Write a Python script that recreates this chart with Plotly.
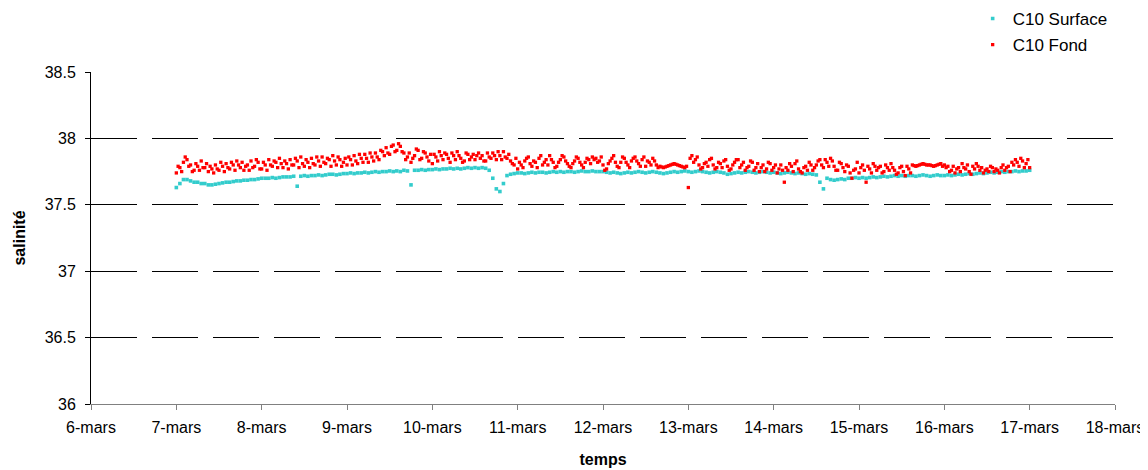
import pandas as pd
import plotly.graph_objects as go

# ---- data (readings from 7-mars 00h to 17-mars 00h) ----
start_time = "2007-03-07 00:00"      # hourly readings (HH:00)
start_time_half = "2007-03-07 00:30" # intermediate bottom readings (HH:30)

surface_values = [
    # 7-mars
    37.63, 37.66, 37.69, 37.69, 37.68, 37.67, 37.67, 37.66, 37.66, 37.65, 37.65, 37.655,
    37.66, 37.665, 37.67, 37.67, 37.675, 37.68, 37.68, 37.685, 37.685, 37.69, 37.69, 37.695,
    # 8-mars
    37.70, 37.70, 37.70, 37.705, 37.70, 37.705, 37.71, 37.71, 37.71, 37.715, 37.64, 37.715,
    37.72, 37.715, 37.72, 37.72, 37.725, 37.72, 37.725, 37.73, 37.73, 37.725, 37.73, 37.735,
    # 9-mars
    37.735, 37.74, 37.735, 37.74, 37.74, 37.745, 37.74, 37.745, 37.75, 37.745, 37.75, 37.75,
    37.755, 37.75, 37.755, 37.75, 37.76, 37.755, 37.65, 37.76, 37.76, 37.765, 37.76, 37.765,
    # 10-mars
    37.765, 37.77, 37.765, 37.77, 37.77, 37.775, 37.77, 37.775, 37.77, 37.775, 37.78, 37.775,
    37.78, 37.775, 37.78, 37.775, 37.76, 37.70, 37.62, 37.60, 37.66, 37.72, 37.73, 37.735,
    # 11-mars
    37.74, 37.74, 37.735, 37.74, 37.745, 37.74, 37.745, 37.745, 37.74, 37.745, 37.75, 37.745,
    37.75, 37.745, 37.75, 37.75, 37.745, 37.75, 37.755, 37.75, 37.75, 37.755, 37.75, 37.75,
    # 12-mars
    37.75, 37.745, 37.74, 37.745, 37.74, 37.735, 37.74, 37.745, 37.74, 37.745, 37.75, 37.745,
    37.74, 37.745, 37.75, 37.745, 37.74, 37.735, 37.74, 37.745, 37.75, 37.745, 37.75, 37.755,
    # 13-mars
    37.75, 37.745, 37.75, 37.755, 37.75, 37.745, 37.74, 37.745, 37.75, 37.745, 37.74, 37.73,
    37.735, 37.74, 37.745, 37.74, 37.745, 37.75, 37.745, 37.74, 37.745, 37.75, 37.745, 37.74,
    # 14-mars
    37.745, 37.74, 37.735, 37.74, 37.745, 37.74, 37.735, 37.74, 37.735, 37.73, 37.735, 37.73,
    37.725, 37.67, 37.62, 37.70, 37.69, 37.685, 37.69, 37.695, 37.69, 37.70, 37.70, 37.705,
    # 15-mars
    37.70, 37.705, 37.70, 37.705, 37.71, 37.705, 37.71, 37.715, 37.71, 37.715, 37.72, 37.715,
    37.72, 37.715, 37.72, 37.72, 37.715, 37.72, 37.725, 37.72, 37.715, 37.72, 37.725, 37.72,
    # 16-mars
    37.72, 37.725, 37.72, 37.725, 37.73, 37.725, 37.73, 37.735, 37.73, 37.735, 37.74, 37.735,
    37.74, 37.745, 37.74, 37.745, 37.75, 37.745, 37.75, 37.75, 37.755, 37.75, 37.755, 37.755,
    # 17-mars 00h
    37.76,
]

fond_values = [
    # 7-mars
    37.74, 37.78, 37.82, 37.84, 37.80, 37.76, 37.79, 37.83, 37.78, 37.75, 37.77, 37.80,
    37.76, 37.79, 37.81, 37.77, 37.80, 37.83, 37.78, 37.76, 37.80, 37.83, 37.79, 37.82,
    # 8-mars
    37.77, 37.80, 37.84, 37.79, 37.82, 37.85, 37.78, 37.81, 37.84, 37.80, 37.83, 37.86,
    37.79, 37.82, 37.85, 37.80, 37.83, 37.86, 37.81, 37.84, 37.87, 37.80, 37.84, 37.82,
    # 9-mars
    37.80, 37.84, 37.87, 37.81, 37.85, 37.88, 37.82, 37.86, 37.89, 37.84, 37.90, 37.93,
    37.88, 37.95, 37.91, 37.94, 37.89, 37.86, 37.82, 37.87, 37.91, 37.85, 37.89, 37.83,
    # 10-mars
    37.81, 37.86, 37.90, 37.84, 37.88, 37.82, 37.87, 37.90, 37.85, 37.83, 37.88, 37.86,
    37.84, 37.89, 37.87, 37.83, 37.86, 37.89, 37.84, 37.87, 37.90, 37.85, 37.83, 37.80,
    # 11-mars
    37.77, 37.80, 37.83, 37.86, 37.79, 37.82, 37.85, 37.80, 37.84, 37.87, 37.82, 37.79,
    37.84, 37.86, 37.81, 37.78, 37.83, 37.85, 37.80, 37.82, 37.84, 37.86, 37.85, 37.83,
    # 12-mars
    37.80, 37.77, 37.83, 37.87, 37.79, 37.82, 37.85, 37.80, 37.83, 37.86, 37.81, 37.84,
    37.79, 37.82, 37.85, 37.80, 37.79, 37.78, 37.79, 37.80, 37.81, 37.80, 37.79, 37.78,
    # 13-mars
    37.63, 37.87, 37.84, 37.80, 37.78, 37.82, 37.84, 37.80, 37.78, 37.81, 37.83, 37.79,
    37.77, 37.82, 37.84, 37.80, 37.76, 37.79, 37.82, 37.78, 37.75, 37.80, 37.77, 37.81,
    # 14-mars
    37.78, 37.74, 37.80, 37.67, 37.76, 37.79, 37.81, 37.77, 37.74, 37.79, 37.82, 37.76,
    37.80, 37.84, 37.78, 37.82, 37.85, 37.79, 37.76, 37.81, 37.75, 37.79, 37.70, 37.77,
    # 15-mars
    37.74, 37.80, 37.67, 37.77, 37.81, 37.76, 37.79, 37.75, 37.78, 37.81, 37.76, 37.74,
    37.79, 37.72, 37.77, 37.80, 37.79, 37.80, 37.81, 37.80, 37.80, 37.79, 37.80, 37.81,
    # 16-mars
    37.80, 37.79, 37.76, 37.74, 37.78, 37.81, 37.77, 37.75, 37.79, 37.81, 37.76, 37.74,
    37.77, 37.79, 37.75, 37.76, 37.78, 37.76, 37.79, 37.82, 37.84, 37.79, 37.83, 37.81,
    # 17-mars 00h
    37.78,
]

fond_values_half = [
    # 7-mars
    37.79, 37.75, 37.86, 37.79, 37.75, 37.81, 37.76, 37.78, 37.81, 37.79, 37.74, 37.77,
    37.82, 37.75, 37.78, 37.82, 37.76, 37.80, 37.82, 37.79, 37.76, 37.78, 37.84, 37.77,
    # 8-mars
    37.82, 37.76, 37.80, 37.83, 37.78, 37.81, 37.83, 37.77, 37.80, 37.85, 37.78, 37.81,
    37.84, 37.78, 37.81, 37.86, 37.79, 37.82, 37.85, 37.79, 37.83, 37.86, 37.79, 37.85,
    # 9-mars
    37.86, 37.80, 37.83, 37.88, 37.82, 37.85, 37.89, 37.83, 37.86, 37.91, 37.87, 37.89,
    37.94, 37.90, 37.96, 37.90, 37.84, 37.89, 37.85, 37.92, 37.84, 37.90, 37.86, 37.88,
    # 10-mars
    37.88, 37.83, 37.87, 37.89, 37.85, 37.89, 37.84, 37.87, 37.82, 37.89, 37.84, 37.88,
    37.87, 37.85, 37.83, 37.89, 37.85, 37.87, 37.90, 37.84, 37.86, 37.88, 37.81, 37.85,
    # 11-mars
    37.82, 37.78, 37.85, 37.81, 37.83, 37.78, 37.87, 37.82, 37.80, 37.84, 37.78, 37.82,
    37.87, 37.83, 37.79, 37.81, 37.86, 37.82, 37.78, 37.85, 37.81, 37.84, 37.82, 37.86,
    # 12-mars
    37.76, 37.81, 37.85, 37.82, 37.78, 37.86, 37.82, 37.78, 37.85, 37.83, 37.79, 37.86,
    37.83, 37.80, 37.83, 37.78, 37.785, 37.785, 37.795, 37.805, 37.805, 37.795, 37.785, 37.79,
    # 13-mars
    37.85, 37.82, 37.86, 37.77, 37.81, 37.79, 37.85, 37.77, 37.82, 37.78, 37.84, 37.76,
    37.80, 37.84, 37.78, 37.82, 37.78, 37.83, 37.76, 37.81, 37.78, 37.75, 37.82, 37.76,
    # 14-mars
    37.80, 37.77, 37.76, 37.78, 37.81, 37.75, 37.83, 37.75, 37.78, 37.76, 37.80, 37.78,
    37.83, 37.80, 37.84, 37.79, 37.83, 37.76, 37.82, 37.78, 37.80, 37.74, 37.76, 37.82,
    # 15-mars
    37.78, 37.76, 37.79, 37.74, 37.79, 37.78, 37.74, 37.80, 37.76, 37.78, 37.73, 37.78,
    37.75, 37.79, 37.74, 37.795, 37.795, 37.805, 37.805, 37.80, 37.795, 37.795, 37.805, 37.79,
    # 16-mars
    37.78, 37.75, 37.79, 37.77, 37.75, 37.78, 37.80, 37.73, 37.77, 37.79, 37.78, 37.76,
    37.75, 37.78, 37.77, 37.74, 37.80, 37.78, 37.75, 37.80, 37.82, 37.85, 37.78, 37.84,
]

tick_dates = ["2007-03-%02d" % d for d in range(6, 19)]
tick_labels = ["6-mars", "7-mars", "8-mars", "9-mars", "10-mars", "11-mars", "12-mars",
               "13-mars", "14-mars", "15-mars", "16-mars", "17-mars", "18-mars"]
y_ticks = [36, 36.5, 37, 37.5, 38, 38.5]
y_tick_labels = ["36", "36.5", "37", "37.5", "38", "38.5"]

times_surface = pd.date_range(start_time, periods=len(surface_values), freq="h")
times_fond = list(pd.date_range(start_time, periods=len(fond_values), freq="h")) + \
    list(pd.date_range(start_time_half, periods=len(fond_values_half), freq="h"))
fond_all = list(fond_values) + list(fond_values_half)

FONT = "Liberation Sans, Arial, sans-serif"

fig = go.Figure()
fig.add_trace(go.Scatter(
    x=times_surface, y=surface_values, mode="markers", name="C10 Surface",
    legendgroup="s",
    marker=dict(color="#33CCCC", size=3.6, symbol="square", line=dict(width=0)),
))
fig.add_trace(go.Scatter(
    x=times_fond, y=fond_all, mode="markers", name="C10 Fond",
    legendgroup="f",
    marker=dict(color="#FF0000", size=3.3, symbol="square", line=dict(width=0)),
))

fig.update_layout(
    width=1148, height=470,
    margin=dict(l=83, r=41, t=64, b=74, autoexpand=False),
    paper_bgcolor="white", plot_bgcolor="white",
    font=dict(family=FONT, size=15, color="black"),
    showlegend=True,
    legend=dict(
        x=0.861, xanchor="left", y=1.214, yref="paper", yanchor="top",
        bgcolor="rgba(0,0,0,0)", font=dict(family=FONT, size=17, color="black"),
        tracegroupgap=1, itemsizing="trace",
    ),
    xaxis=dict(
        type="date", automargin=False,
        range=[tick_dates[0], tick_dates[-1]],
        tickmode="array", tickvals=tick_dates, ticktext=tick_labels,
        ticks="outside", ticklen=5, tickcolor="#808080", tickwidth=1,
        showline=True, linecolor="#808080", linewidth=1,
        showgrid=False, zeroline=False, ticklabelstandoff=4,
        tickfont=dict(family=FONT, size=16, color="black"),
        title=dict(text="<b>temps</b>", font=dict(family=FONT, size=16, color="black"), standoff=18),
    ),
    yaxis=dict(
        automargin=False,
        range=[36, 38.5],
        tickmode="array", tickvals=y_ticks, ticktext=y_tick_labels,
        ticks="outside", ticklen=5, tickcolor="black", tickwidth=1,
        showline=True, linecolor="black", linewidth=1,
        showgrid=True, gridcolor="black", gridwidth=1, griddash="46px,15px",
        zeroline=False, ticklabelstandoff=6,
        tickfont=dict(family=FONT, size=16, color="black"),
        title=dict(text="<b>salinité</b>", font=dict(family=FONT, size=16, color="black"), standoff=15),
    ),
)

fig.write_html("out.html")
